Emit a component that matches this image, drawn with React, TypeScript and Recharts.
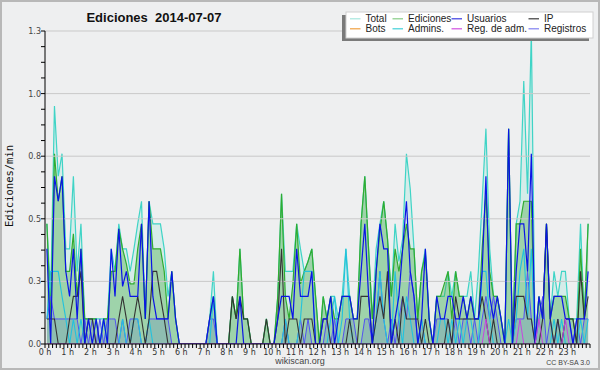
import {
  Area,
  ComposedChart,
  Line,
  ReferenceLine,
  XAxis,
  YAxis,
} from "recharts";

// 144 buckets of 10 minutes, edits per minute
const HOURS = [
  "0 h", "1 h", "2 h", "3 h", "4 h", "5 h", "6 h", "7 h", "8 h", "9 h", "10 h", "11 h",
  "12 h", "13 h", "14 h", "15 h", "16 h", "17 h", "18 h", "19 h", "20 h", "21 h", "22 h", "23 h",
];

const TOTAL = [
  0.48, 0.19, 0.95, 0.67, 0.76, 0.38, 0.38, 0.67, 0.29, 0.48, 0.1, 0.1,
  0.1, 0.1, 0.1, 0.1, 0.1, 0.38, 0.29, 0.48, 0.38, 0.38, 0.29, 0.38,
  0.48, 0.57, 0.1, 0.57, 0.48, 0.48, 0.48, 0.38, 0.19, 0.29, 0.1, 0,
  0, 0, 0, 0, 0, 0, 0, 0.1, 0.29, 0, 0, 0,
  0, 0.19, 0.1, 0.38, 0.1, 0.1, 0, 0, 0, 0, 0.1, 0,
  0, 0.19, 0.6, 0.29, 0.29, 0.29, 0.48, 0.38, 0.29, 0.33, 0.38, 0.19,
  0, 0.19, 0.1, 0.19, 0.19, 0.1, 0.19, 0.38, 0.19, 0.1, 0.1, 0.48,
  0.67, 0.38, 0.1, 0.38, 0.48, 0.57, 0.42, 0.19, 0.48, 0.33, 0.42, 0.76,
  0.62, 0.38, 0.1, 0.29, 0.38, 0.1, 0, 0.19, 0.19, 0.19, 0.29, 0.19,
  0.29, 0.19, 0.19, 0.19, 0.29, 0.1, 0.29, 0.57, 0.86, 0.38, 0.19, 0.19,
  0.1, 0, 0.86, 0, 0.48, 0.57, 1.05, 0.6, 1.25, 0, 0.19, 0.1,
  0.48, 0.1, 0.29, 0.19, 0.29, 0.29, 0.1, 0.1, 0.1, 0.48, 0.1, 0.48,
];

const EDICIONES = [
  0.48, 0.1, 0.76, 0.57, 0.67, 0.29, 0.29, 0.44, 0.19, 0.38, 0.1, 0.1,
  0.1, 0.1, 0, 0.1, 0.1, 0.29, 0.29, 0.46, 0.38, 0.32, 0.24, 0.24,
  0.38, 0.48, 0.1, 0.57, 0.38, 0.38, 0.38, 0.29, 0.1, 0.29, 0.1, 0,
  0, 0, 0, 0, 0, 0, 0, 0.1, 0.19, 0, 0, 0,
  0, 0.19, 0.1, 0.38, 0.1, 0.1, 0, 0, 0, 0, 0.1, 0,
  0, 0.19, 0.6, 0.19, 0.1, 0.24, 0.48, 0.24, 0.29, 0.33, 0.38, 0.19,
  0, 0.19, 0.1, 0.19, 0.1, 0.1, 0.19, 0.19, 0.19, 0.1, 0.1, 0.48,
  0.67, 0.38, 0.1, 0.29, 0.45, 0.57, 0.42, 0.19, 0.38, 0.29, 0.38, 0.48,
  0.38, 0.38, 0.1, 0.29, 0.36, 0.1, 0, 0.19, 0.19, 0.24, 0.29, 0.1,
  0.29, 0.19, 0.19, 0.1, 0.19, 0.1, 0.1, 0.38, 0.6, 0.29, 0.19, 0.19,
  0.1, 0, 0.86, 0, 0.48, 0.48, 0.57, 0.57, 0.57, 0, 0.19, 0.1,
  0.48, 0.1, 0.19, 0.19, 0.19, 0.19, 0.1, 0.1, 0, 0.38, 0.1, 0.48,
];

const USUARIOS = [
  0.38, 0, 0.67, 0.57, 0.67, 0.29, 0.19, 0.38, 0.1, 0.38, 0, 0.1,
  0, 0.1, 0, 0.1, 0, 0.38, 0.19, 0.46, 0.23, 0.29, 0.19, 0.19,
  0.19, 0.48, 0.1, 0.57, 0.19, 0.1, 0.1, 0.1, 0.1, 0.29, 0.1, 0,
  0, 0, 0, 0, 0, 0, 0, 0.1, 0.19, 0, 0, 0,
  0, 0, 0, 0.19, 0, 0, 0, 0, 0, 0, 0, 0,
  0, 0.1, 0.19, 0.19, 0.19, 0.1, 0.38, 0.19, 0.19, 0.19, 0.29, 0,
  0, 0.1, 0.1, 0.19, 0, 0.1, 0.19, 0.19, 0.19, 0.1, 0.1, 0.29,
  0.48, 0.19, 0, 0.29, 0.48, 0.38, 0.38, 0, 0.1, 0.19, 0.38, 0.57,
  0.29, 0.19, 0, 0.1, 0.38, 0.1, 0, 0.19, 0.1, 0.1, 0.19, 0.19,
  0.1, 0.1, 0.19, 0.1, 0.19, 0.1, 0.1, 0.29, 0.67, 0.19, 0.1, 0.19,
  0.1, 0, 0.86, 0, 0.29, 0.48, 0.48, 0.29, 0.76, 0, 0.19, 0.1,
  0.48, 0.1, 0.19, 0.19, 0.19, 0.1, 0.1, 0, 0.1, 0.1, 0.1, 0.29,
];

const IP = [
  0.1, 0.1, 0.1, 0, 0, 0, 0.1, 0.19, 0.19, 0.29, 0, 0.1,
  0.1, 0, 0, 0, 0, 0, 0, 0.1, 0.19, 0.1, 0, 0.1,
  0.19, 0.1, 0, 0.1, 0.29, 0.29, 0.19, 0.1, 0, 0, 0, 0,
  0, 0, 0, 0, 0, 0, 0, 0, 0, 0, 0, 0,
  0, 0.19, 0.1, 0.19, 0.1, 0.1, 0, 0, 0, 0, 0.1, 0,
  0, 0.1, 0.38, 0, 0.1, 0.1, 0.1, 0, 0.1, 0.1, 0.1, 0,
  0, 0.1, 0.1, 0, 0, 0, 0, 0, 0.1, 0, 0, 0.19,
  0.19, 0.19, 0, 0.1, 0.19, 0.1, 0.29, 0, 0.1, 0, 0.19, 0.1,
  0.1, 0.1, 0.1, 0, 0.1, 0, 0, 0, 0, 0, 0.1, 0,
  0.19, 0.1, 0.1, 0.1, 0.1, 0.1, 0.1, 0.19, 0.1, 0, 0.1, 0,
  0, 0, 0, 0, 0.19, 0.19, 0.19, 0.1, 0.1, 0, 0, 0.1,
  0.48, 0.1, 0, 0.1, 0, 0.1, 0.1, 0.1, 0, 0.29, 0.1, 0.19,
];

const ADMINS = [
  0.1, 0.29, 0.29, 0.29, 0.19, 0.1, 0, 0.1, 0, 0.1, 0, 0,
  0, 0, 0, 0.1, 0, 0, 0, 0, 0.1, 0, 0, 0.1,
  0.1, 0, 0, 0.1, 0, 0, 0, 0, 0, 0, 0, 0,
  0, 0, 0, 0, 0, 0, 0, 0, 0.19, 0, 0, 0,
  0, 0, 0, 0, 0, 0, 0, 0, 0, 0, 0, 0,
  0, 0, 0, 0.1, 0, 0, 0, 0.1, 0.29, 0.29, 0.29, 0,
  0, 0, 0, 0.1, 0.19, 0, 0.1, 0.38, 0.1, 0, 0, 0,
  0, 0, 0, 0.1, 0.29, 0.1, 0, 0, 0.29, 0.1, 0, 0.19,
  0.1, 0, 0, 0.1, 0, 0, 0, 0, 0.1, 0.1, 0, 0.1,
  0, 0.1, 0, 0.1, 0.1, 0, 0, 0.29, 0.29, 0.1, 0, 0,
  0, 0, 0.1, 0, 0.1, 0.29, 0.38, 0.1, 0.38, 0, 0, 0,
  0, 0, 0.1, 0, 0.1, 0, 0, 0, 0, 0.1, 0, 0.1,
];

const REGISTROS = [
  0.1, 0.19, 0.1, 0.1, 0.1, 0.1, 0.1, 0.1, 0.1, 0, 0.1, 0,
  0.1, 0, 0.1, 0, 0.1, 0.1, 0.1, 0, 0.1, 0, 0.1, 0.1,
  0.1, 0, 0, 0.1, 0.1, 0.1, 0.1, 0.1, 0.1, 0, 0, 0,
  0, 0, 0, 0, 0, 0, 0, 0.1, 0.1, 0, 0, 0,
  0, 0, 0, 0, 0, 0, 0, 0, 0, 0, 0, 0,
  0, 0, 0, 0.1, 0, 0, 0, 0.1, 0, 0.1, 0, 0,
  0, 0, 0.1, 0, 0.1, 0, 0, 0.1, 0.1, 0.1, 0, 0,
  0.1, 0.1, 0, 0.1, 0.29, 0.1, 0, 0.1, 0, 0.1, 0.19, 0.1,
  0.29, 0.19, 0, 0.1, 0, 0, 0, 0.1, 0.1, 0.1, 0.1, 0,
  0.1, 0, 0.1, 0.1, 0, 0.1, 0, 0.1, 0.19, 0.1, 0.19, 0.1,
  0, 0, 0, 0, 0.1, 0.1, 0.1, 0.29, 0.1, 0, 0.1, 0.19,
  0, 0.1, 0, 0.1, 0, 0.1, 0.1, 0, 0.1, 0, 0.1, 0.1,
];

const REG_ADM = [
  0, 0, 0, 0, 0, 0, 0, 0, 0, 0, 0, 0,
  0, 0, 0, 0, 0, 0, 0, 0, 0, 0, 0, 0,
  0, 0, 0, 0, 0, 0, 0, 0, 0, 0, 0, 0,
  0, 0, 0, 0, 0, 0, 0, 0, 0, 0, 0, 0,
  0, 0, 0, 0, 0, 0, 0, 0, 0, 0, 0, 0,
  0, 0, 0, 0, 0, 0, 0, 0, 0, 0, 0, 0,
  0, 0, 0, 0, 0, 0, 0, 0, 0, 0, 0, 0,
  0, 0, 0, 0, 0, 0, 0, 0, 0, 0, 0, 0,
  0, 0, 0, 0, 0, 0, 0, 0, 0, 0, 0, 0,
  0, 0, 0, 0, 0, 0, 0, 0, 0.1, 0, 0, 0,
  0, 0, 0, 0, 0, 0.1, 0, 0, 0, 0, 0.1, 0,
  0, 0, 0, 0, 0, 0.1, 0, 0, 0, 0, 0, 0,
];

const Y_GRID = [0.25, 0.5, 0.75, 1.0, 1.25];

const LEGEND = [
  { name: "Total", color: "#a6e6de" },
  { name: "Ediciones", color: "#86cc86" },
  { name: "Usuarios", color: "#3a3ae0" },
  { name: "IP", color: "#3a3a3a" },
  { name: "Bots", color: "#f0a040" },
  { name: "Admins.", color: "#40d0d8" },
  { name: "Reg. de adm.", color: "#d050e0" },
  { name: "Registros", color: "#8080f0" },
];

const data = TOTAL.map((v, i) => ({
  t: i + 0.5,
  total: v,
  edic: EDICIONES[i],
  usu: USUARIOS[i],
  ip: IP[i],
  adm: ADMINS[i],
  reg: REGISTROS[i],
  regadm: REG_ADM[i],
}));

const xTicks = Array.from({ length: 145 }, (_, i) => i);
const yTicks = Array.from({ length: 21 }, (_, i) => i * 0.0625);

function XTick({ x, y, payload }: any) {
  const v = payload.value;
  return (
    <g>
      <line x1={x} x2={x} y1={y} y2={y + 4} stroke="#000" />
      {v % 6 === 0 && v < 144 && (
        <text x={x} y={y + 10.5} textAnchor="middle" fontSize={8} fontFamily="DejaVu Sans" fill="#333">
          {HOURS[v / 6]}
        </text>
      )}
    </g>
  );
}

function YTick({ x, y, payload }: any) {
  const v = payload.value;
  const major = Math.abs(v / 0.25 - Math.round(v / 0.25)) < 1e-6;
  return (
    <g>
      <line x1={x - 4} x2={x} y1={y} y2={y} stroke="#000" />
      {major && (
        <text x={x - 4} y={y + 3} textAnchor="end" fontSize={8} fontFamily="DejaVu Sans" fill="#444">
          {v.toFixed(1)}
        </text>
      )}
    </g>
  );
}

const colX = [350, 392.5, 451.5, 528.5];

export default function App() {
  return (
    <div
      style={{
        position: "absolute",
        left: 0,
        top: 0,
        width: 600,
        height: 370,
        background: "#eeeff0",
        boxShadow: "inset 0 0 0 2px #b8b8b8",
      }}
    >
      <ComposedChart width={600} height={370} data={data} margin={{ top: 31, right: 10, left: 0, bottom: 0 }}>
        {Y_GRID.map((g) => (
          <ReferenceLine key={g} y={g} stroke="#c9c9c9" />
        ))}
        <XAxis
          type="number"
          dataKey="t"
          domain={[0, 144]}
          ticks={xTicks}
          interval={0}
          tick={<XTick />}
          tickSize={0}
          tickMargin={0}
          height={26}
          axisLine={{ stroke: "#000" }}
          tickLine={false}
        />
        <YAxis
          type="number"
          domain={[0, 1.25]}
          allowDataOverflow
          ticks={yTicks}
          interval={0}
          tick={<YTick />}
          tickSize={0}
          tickMargin={0}
          width={45}
          axisLine={{ stroke: "#000" }}
          tickLine={false}
        />
        <Area type="linear" dataKey="total" stroke="#3fd4c6" strokeWidth={1.2} fill="#a6e8de" fillOpacity={0.35} dot={false} activeDot={false} isAnimationActive={false} />
        <Area type="linear" dataKey="edic" stroke="#30ac30" strokeWidth={1.2} fill="#44aa44" fillOpacity={0.38} dot={false} activeDot={false} isAnimationActive={false} />
        <Area type="linear" dataKey="reg" stroke="#5252f2" strokeWidth={1} fill="#4a5ad0" fillOpacity={0.18} dot={false} activeDot={false} isAnimationActive={false} />
        <Line type="linear" dataKey="adm" stroke="#22c2de" strokeWidth={1.1} dot={false} activeDot={false} isAnimationActive={false} />
        <Line type="linear" dataKey="ip" stroke="#333333" strokeWidth={1.1} dot={false} activeDot={false} isAnimationActive={false} />
        <Line type="linear" dataKey="usu" stroke="#0a14e6" strokeWidth={1.2} dot={false} activeDot={false} isAnimationActive={false} />
        <Line type="linear" dataKey="regadm" stroke="#c844e0" strokeWidth={1} dot={false} activeDot={false} isAnimationActive={false} />
      </ComposedChart>
      <svg width={600} height={370} style={{ position: "absolute", left: 0, top: 0, pointerEvents: "none" }}>
        <text x={154} y={21.5} textAnchor="middle" fontSize={13} fontWeight="bold" fontFamily="Liberation Sans" fill="#111" style={{ whiteSpace: "pre" }}>
          {"Ediciones  2014-07-07"}
        </text>
        <text transform="translate(13,186) rotate(-90)" textAnchor="middle" fontSize={10.5} fontFamily="DejaVu Sans Mono" fill="#111">
          Ediciones/min
        </text>
        <text x={300} y={363.5} textAnchor="middle" fontSize={9} fontFamily="Liberation Sans" fill="#444">
          wikiscan.org
        </text>
        <text x={590} y={365} textAnchor="end" fontSize={7} fontFamily="Liberation Sans" fill="#444">
          CC BY-SA 3.0
        </text>
        <rect x={342} y={15} width={247} height={26} fill="#7a7a7a" />
        <rect x={346} y={12} width={247} height={26} fill="#ffffff" stroke="#d0d0d0" />
        {LEGEND.map((l, i) => {
          const cx = colX[i % 4];
          const base = i < 4 ? 22.3 : 32.3;
          return (
            <g key={l.name}>
              <line x1={cx} x2={cx + 10.5} y1={base - 3.5} y2={base - 3.5} stroke={l.color} strokeWidth={1.2} />
              <text x={cx + 15.5} y={base} fontSize={10} fontFamily="Liberation Sans" fill="#222">
                {l.name}
              </text>
            </g>
          );
        })}
      </svg>
    </div>
  );
}
